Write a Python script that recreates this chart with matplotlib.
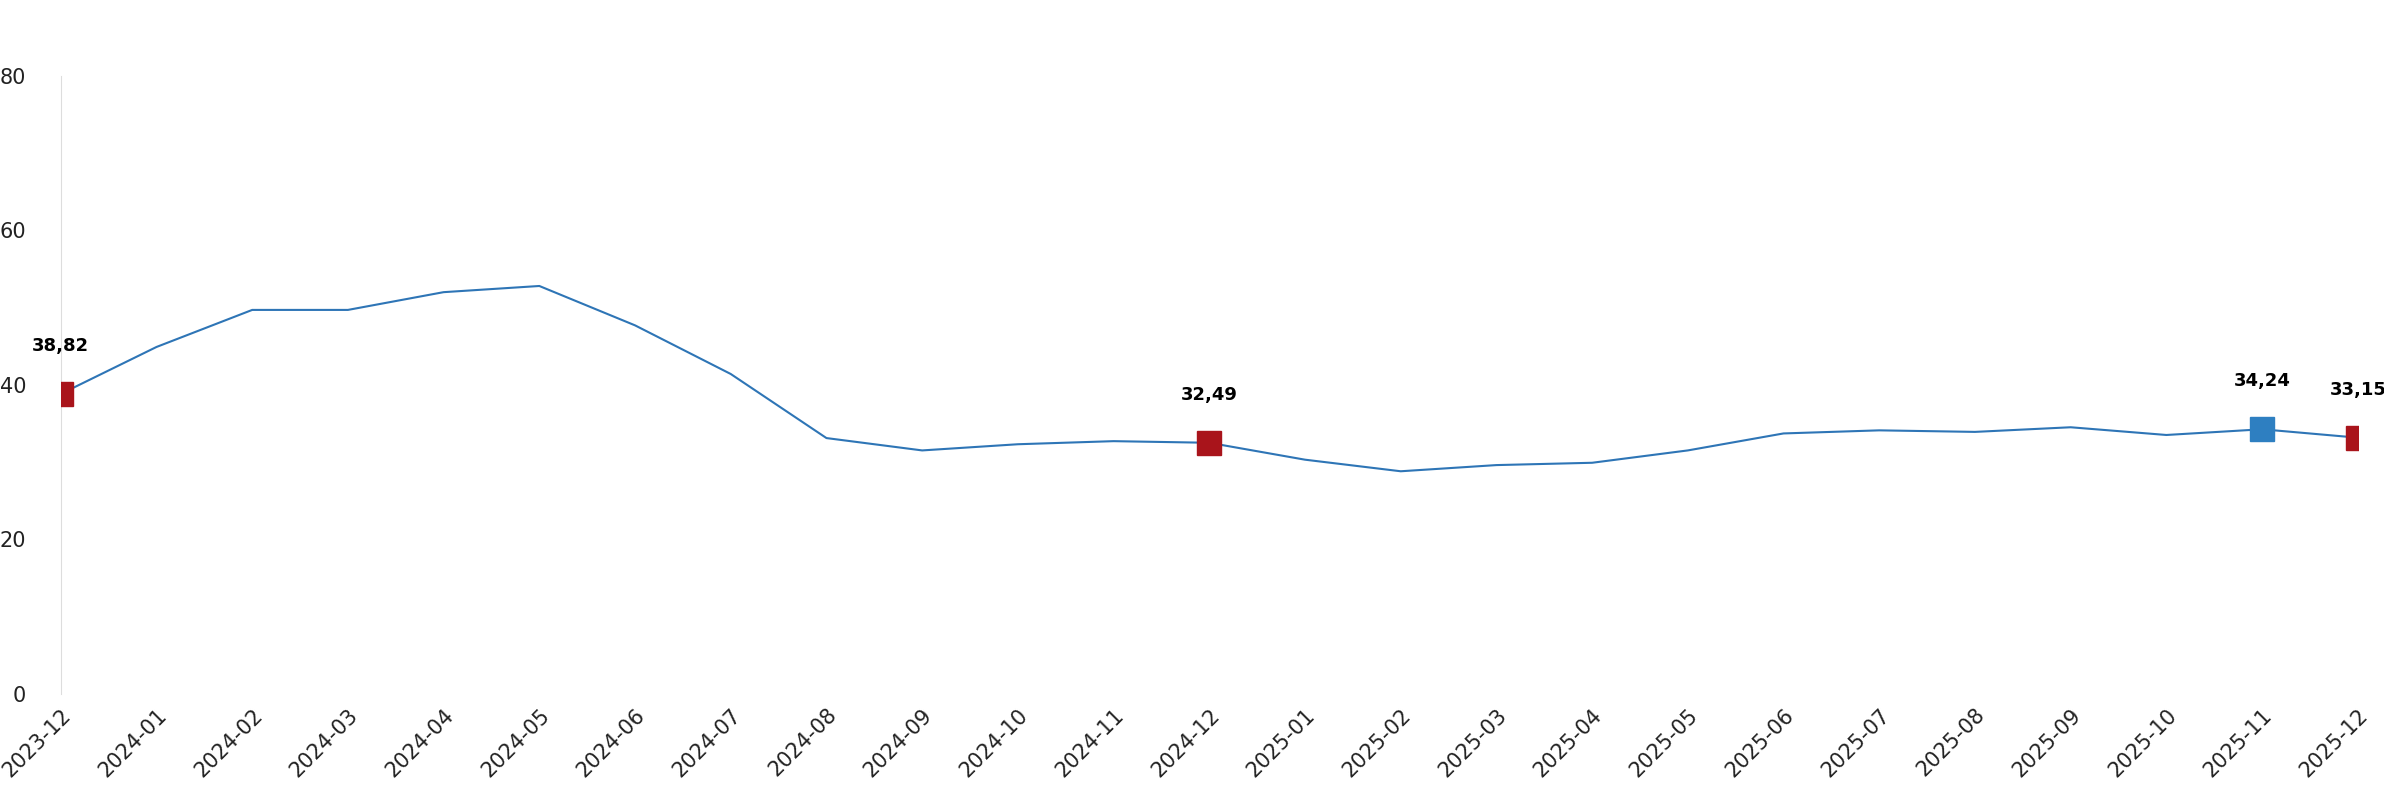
import matplotlib
matplotlib.use("Agg")
import matplotlib.pyplot as plt

months = ["2023-12","2024-01","2024-02","2024-03","2024-04","2024-05","2024-06","2024-07","2024-08","2024-09","2024-10","2024-11","2024-12",
          "2025-01","2025-02","2025-03","2025-04","2025-05","2025-06","2025-07","2025-08","2025-09","2025-10","2025-11","2025-12"]
values = [38.82,44.9,49.7,49.7,52.0,52.8,47.7,41.4,33.1,31.5,32.3,32.7,32.49,
          30.3,28.8,29.6,29.9,31.5,33.7,34.1,33.9,34.5,33.5,34.24,33.15]
red_idx = [0, 12, 24]
blue_idx = [23]

fig = plt.figure(figsize=(23.84, 8), dpi=100)
ax = fig.add_axes([0.0255, 0.133, 0.9635, 0.772])
x = list(range(len(months)))
ax.plot(x, values, color="#2e75b6", lw=1.5, zorder=2)
for i in red_idx:
    ax.plot(i, values[i], marker="s", ms=17, color="#a9141b", ls="none", zorder=3)
for i in blue_idx:
    ax.plot(i, values[i], marker="s", ms=17, color="#2e7fc1", ls="none", zorder=3)
for i in red_idx + blue_idx:
    ax.annotate(f"{values[i]:.2f}".replace(".", ","), (i, values[i]), xytext=(0, 28),
                textcoords="offset points", ha="center", va="bottom", fontsize=13, fontweight="bold")
ax.set_xlim(0, 24)
ax.set_ylim(0, 80)
ax.set_yticks([0, 20, 40, 60, 80])
ax.set_xticks(x)
ax.set_xticklabels(months, rotation=45, ha="right", rotation_mode="anchor")
ax.tick_params(axis="both", labelsize=15, length=0, colors="#222222")
ax.tick_params(axis="y", pad=25)
ax.tick_params(axis="x", pad=8)
for s in ["top", "right", "bottom"]:
    ax.spines[s].set_visible(False)
ax.spines["left"].set_color("#dddddd")
fig.savefig("out.png", dpi=100)
